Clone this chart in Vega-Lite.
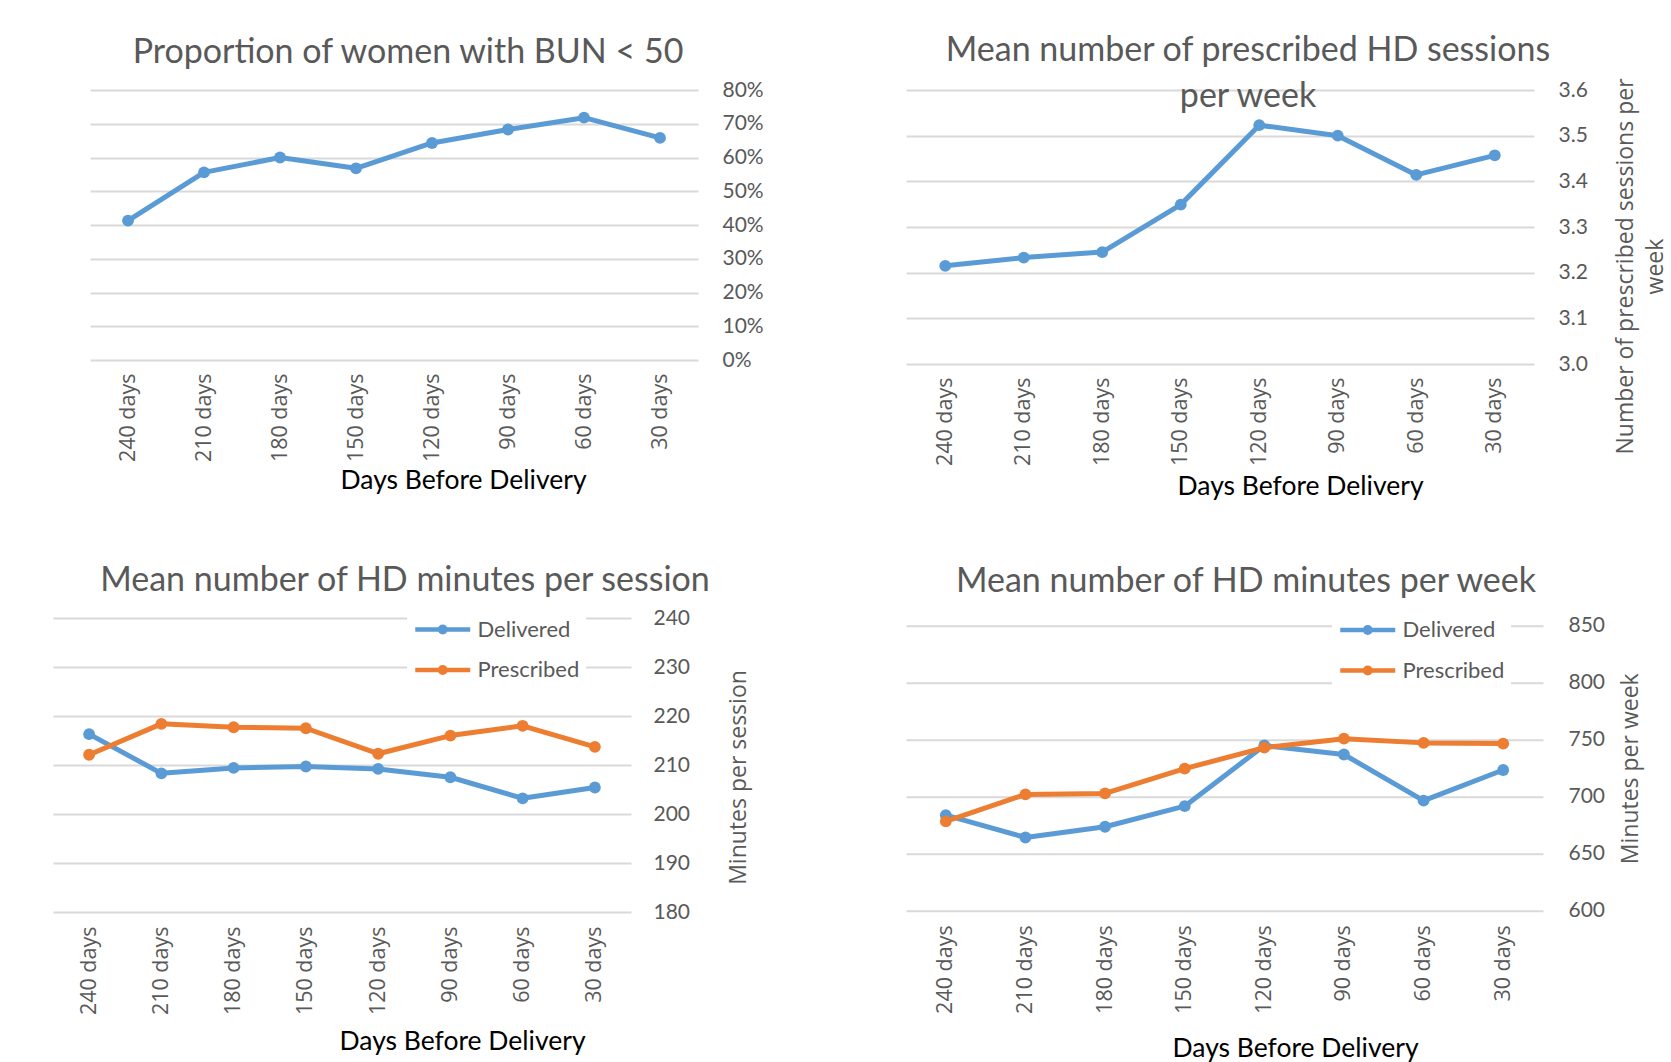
{
  "$schema": "https://vega.github.io/schema/vega-lite/v6.json",
  "background": "white",
  "padding": {"left": 53, "top": 33, "right": 0, "bottom": 0},
  "datasets": {
    "bun": [
      {"day": "240 days", "value": 0.413},
      {"day": "210 days", "value": 0.556},
      {"day": "180 days", "value": 0.600},
      {"day": "150 days", "value": 0.568},
      {"day": "120 days", "value": 0.643},
      {"day": "90 days", "value": 0.683},
      {"day": "60 days", "value": 0.718},
      {"day": "30 days", "value": 0.658}
    ],
    "sessions": [
      {"day": "240 days", "value": 3.215},
      {"day": "210 days", "value": 3.233},
      {"day": "180 days", "value": 3.245},
      {"day": "150 days", "value": 3.349},
      {"day": "120 days", "value": 3.523},
      {"day": "90 days", "value": 3.500},
      {"day": "60 days", "value": 3.414},
      {"day": "30 days", "value": 3.457}
    ],
    "minsess": [
      {"day": "240 days", "series": "Delivered", "value": 216.3},
      {"day": "210 days", "series": "Delivered", "value": 208.3},
      {"day": "180 days", "series": "Delivered", "value": 209.4},
      {"day": "150 days", "series": "Delivered", "value": 209.7},
      {"day": "120 days", "series": "Delivered", "value": 209.2},
      {"day": "90 days", "series": "Delivered", "value": 207.5},
      {"day": "60 days", "series": "Delivered", "value": 203.2},
      {"day": "30 days", "series": "Delivered", "value": 205.4},
      {"day": "240 days", "series": "Prescribed", "value": 212.1},
      {"day": "210 days", "series": "Prescribed", "value": 218.4},
      {"day": "180 days", "series": "Prescribed", "value": 217.7},
      {"day": "150 days", "series": "Prescribed", "value": 217.5},
      {"day": "120 days", "series": "Prescribed", "value": 212.3},
      {"day": "90 days", "series": "Prescribed", "value": 216.0},
      {"day": "60 days", "series": "Prescribed", "value": 218.0},
      {"day": "30 days", "series": "Prescribed", "value": 213.7}
    ],
    "minweek": [
      {"day": "240 days", "series": "Delivered", "value": 683.9},
      {"day": "210 days", "series": "Delivered", "value": 664.3},
      {"day": "180 days", "series": "Delivered", "value": 673.7},
      {"day": "150 days", "series": "Delivered", "value": 691.8},
      {"day": "120 days", "series": "Delivered", "value": 745.0},
      {"day": "90 days", "series": "Delivered", "value": 737.1},
      {"day": "60 days", "series": "Delivered", "value": 696.6},
      {"day": "30 days", "series": "Delivered", "value": 723.5},
      {"day": "240 days", "series": "Prescribed", "value": 678.5},
      {"day": "210 days", "series": "Prescribed", "value": 702.1},
      {"day": "180 days", "series": "Prescribed", "value": 703.0},
      {"day": "150 days", "series": "Prescribed", "value": 724.7},
      {"day": "120 days", "series": "Prescribed", "value": 743.1},
      {"day": "90 days", "series": "Prescribed", "value": 751.0},
      {"day": "60 days", "series": "Prescribed", "value": 747.3},
      {"day": "30 days", "series": "Prescribed", "value": 746.7}
    ]
  },
  "spacing": 142,
  "resolve": {"scale": {"color": "independent"}, "legend": {"color": "independent"}},
  "hconcat": [
    {
      "spacing": 69,
      "resolve": {"scale": {"color": "independent"}, "legend": {"color": "independent"}},
      "vconcat": [
        {
          "width": 645,
          "height": 270,
          "title": {"text": "Proportion of women with BUN < 50", "offset": 9, "dx": 32.5},
          "data": {"name": "bun"},
          "encoding": {
            "x": {"field": "day", "type": "ordinal", "sort": ["240 days", "210 days", "180 days", "150 days", "120 days", "90 days", "60 days", "30 days"],
                  "scale": {"range": [37, 645]},
                  "axis": {"title": "Days Before Delivery", "labelPadding": 13, "titlePadding": 6, "titleX": 410}}
          },
          "resolve": {"axis": {"y": "independent"}},
          "layer": [
            {"mark": {"type": "line", "color": "#5b9bd5", "strokeWidth": 5, "strokeJoin": "round", "strokeCap": "round"},
             "encoding": {"y": {"field": "value", "type": "quantitative", "scale": {"domain": [0, 0.8]},
                  "axis": {"orient": "right", "values": [0, 0.1, 0.2, 0.3, 0.4, 0.5, 0.6, 0.7, 0.8], "format": ".0%", "labelPadding": 24, "title": null, "grid": false}}}},
            {"mark": {"type": "point", "filled": true, "size": 140, "opacity": 1, "color": "#5b9bd5"},
             "encoding": {"y": {"field": "value", "type": "quantitative", "scale": {"domain": [0, 0.8]},
                  "axis": {"orient": "left", "values": [0, 0.1, 0.2, 0.3, 0.4, 0.5, 0.6, 0.7, 0.8], "labels": false, "title": null, "grid": true}}}}
          ]
        },
        {
          "width": 578,
          "height": 294,
          "title": {"text": "Mean number of HD minutes per session", "offset": 9, "dx": 63},
          "data": {"name": "minsess"},
          "encoding": {
            "x": {"field": "day", "type": "ordinal", "sort": ["240 days", "210 days", "180 days", "150 days", "120 days", "90 days", "60 days", "30 days"],
                  "axis": {"title": "Days Before Delivery", "labelPadding": 14, "titlePadding": 14, "titleX": 409}},
            "y": {"field": "value", "type": "quantitative", "scale": {"domain": [180, 240]},
                  "axis": {"orient": "right", "values": [180, 190, 200, 210, 220, 230, 240], "labelPadding": 22,
                           "title": "Minutes per session", "titleAngle": 270, "titleBaseline": "top", "titlePadding": 38, "titleY": 159}}
          },
          "layer": [
            {"mark": {"type": "line", "strokeWidth": 5, "strokeJoin": "round", "strokeCap": "round"},
             "encoding": {"color": {"field": "series", "type": "nominal", "scale": {"domain": ["Delivered", "Prescribed"], "range": ["#5b9bd5", "#ed7d31"]},
               "legend": {"orient": "none", "legendX": 354, "legendY": -10.5, "title": null,
                          "symbolType": "M-1,0L3,0M0.8,0A0.2,0.2,0,1,0,1.2,0A0.2,0.2,0,1,0,0.8,0Z",
                          "symbolSize": 756, "symbolStrokeWidth": 4.5, "labelFont": "Lato", "labelFontSize": 22, "labelColor": "#595959",
                          "labelOffset": 32.5, "rowPadding": 12.5, "fillColor": "white", "padding": 6}}}},
            {"mark": {"type": "point", "filled": true, "size": 140, "opacity": 1},
             "encoding": {"color": {"field": "series", "type": "nominal", "scale": {"domain": ["Delivered", "Prescribed"], "range": ["#5b9bd5", "#ed7d31"]}, "legend": null}}}
          ]
        }
      ]
    },
    {
      "spacing": 63.8,
      "resolve": {"scale": {"color": "independent"}, "legend": {"color": "independent"}},
      "vconcat": [
        {
          "width": 628,
          "height": 274,
          "title": {"text": ["Mean number of prescribed HD sessions", "per week"], "offset": -36, "dx": 28, "lineHeight": 46},
          "data": {"name": "sessions"},
          "encoding": {
            "x": {"field": "day", "type": "ordinal", "sort": ["240 days", "210 days", "180 days", "150 days", "120 days", "90 days", "60 days", "30 days"],
                  "axis": {"title": "Days Before Delivery", "labelPadding": 13, "titlePadding": 8, "titleX": 394}},
            "y": {"field": "value", "type": "quantitative", "scale": {"domain": [3.0, 3.6]},
                  "axis": {"orient": "right", "values": [3.0, 3.1, 3.2, 3.3, 3.4, 3.5, 3.6], "format": ".1f", "labelPadding": 24,
                           "title": ["Number of prescribed sessions per", "week"], "titleAngle": 270, "titleBaseline": "top", "titlePadding": -3, "titleY": 176, "titleLineHeight": 30}}
          },
          "layer": [
            {"mark": {"type": "line", "color": "#5b9bd5", "strokeWidth": 5, "strokeJoin": "round", "strokeCap": "round"}},
            {"mark": {"type": "point", "filled": true, "size": 140, "opacity": 1, "color": "#5b9bd5"}}
          ]
        },
        {
          "width": 637,
          "height": 285,
          "title": {"text": "Mean number of HD minutes per week", "offset": 9, "dx": 21.5},
          "data": {"name": "minweek"},
          "encoding": {
            "x": {"field": "day", "type": "ordinal", "sort": ["240 days", "210 days", "180 days", "150 days", "120 days", "90 days", "60 days", "30 days"],
                  "axis": {"title": "Days Before Delivery", "labelPadding": 14, "titlePadding": 22, "titleX": 389}},
            "y": {"field": "value", "type": "quantitative", "scale": {"domain": [600, 850]},
                  "axis": {"orient": "right", "values": [600, 650, 700, 750, 800, 850], "labelPadding": 25,
                           "title": "Minutes per week", "titleAngle": 270, "titleBaseline": "top", "titlePadding": 14.5}}
          },
          "layer": [
            {"mark": {"type": "line", "strokeWidth": 5, "strokeJoin": "round", "strokeCap": "round"},
             "encoding": {"color": {"field": "series", "type": "nominal", "scale": {"domain": ["Delivered", "Prescribed"], "range": ["#5b9bd5", "#ed7d31"]},
               "legend": {"orient": "none", "legendX": 426, "legendY": -17.75, "title": null,
                          "symbolType": "M-1,0L3,0M0.8,0A0.2,0.2,0,1,0,1.2,0A0.2,0.2,0,1,0,0.8,0Z",
                          "symbolSize": 756, "symbolStrokeWidth": 4.5, "labelFont": "Lato", "labelFontSize": 22, "labelColor": "#595959",
                          "labelOffset": 32.5, "rowPadding": 12.5, "fillColor": "white", "padding": 6}}}},
            {"mark": {"type": "point", "filled": true, "size": 140, "opacity": 1},
             "encoding": {"color": {"field": "series", "type": "nominal", "scale": {"domain": ["Delivered", "Prescribed"], "range": ["#5b9bd5", "#ed7d31"]}, "legend": null}}}
          ]
        }
      ]
    }
  ],
  "config": {
    "view": {"stroke": null},
    "axis": {"domain": false, "ticks": false, "gridColor": "#d9d9d9", "gridWidth": 2, "labelColor": "#595959", "titleFontWeight": "normal"},
    "axisX": {"labelFont": "Open Sans", "labelFontSize": 21.5, "labelAngle": -90, "grid": false, "titleFont": "Lato", "titleFontSize": 26.5, "titleColor": "#000000"},
    "axisY": {"labelFont": "Lato", "labelFontSize": 21, "titleFont": "Open Sans", "titleFontSize": 23, "titleColor": "#595959"},
    "title": {"font": "Lato", "fontSize": 34, "color": "#595959", "fontWeight": "normal", "anchor": "middle"}
  }
}
